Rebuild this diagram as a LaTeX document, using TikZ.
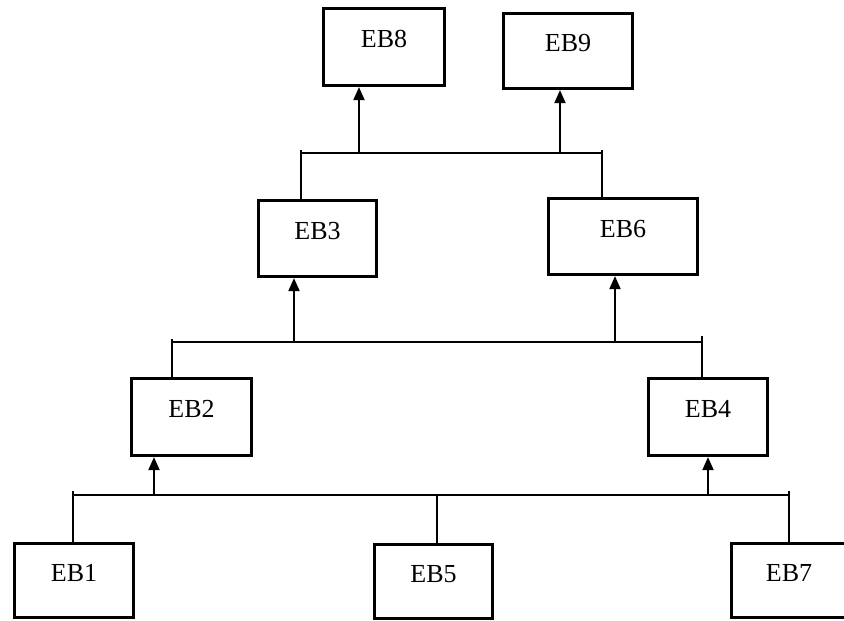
\documentclass[tikz,border=0pt]{standalone}
\usepackage{fontspec}
\setmainfont{Liberation Serif}
\usetikzlibrary{arrows.meta}
\begin{document}
\begin{tikzpicture}[x=1pt,y=-1pt,
  ebox/.style={draw, line width=3.2pt, inner sep=0pt, minimum height=77pt,
    font=\fontsize{26}{30}\selectfont, text height=18pt, text depth=17pt},
  wire/.style={line width=1.8pt},
  arr/.style={line width=2pt, -{Triangle[width=11pt,length=13pt]}}]
\useasboundingbox (0,0) rectangle (844,621);

% boxes
\node[ebox, minimum width=121pt] (eb8) at (384,47) {EB8};
\node[ebox, minimum width=129pt, minimum height=75pt] (eb9) at (568,51) {EB9};
\node[ebox, minimum width=118pt, minimum height=76pt] (eb3) at (317.5,238.5) {EB3};
\node[ebox, minimum width=149pt, minimum height=76pt] (eb6) at (623,236.5) {EB6};
\node[ebox, minimum width=120pt] (eb2) at (191.5,417) {EB2};
\node[ebox, minimum width=119pt] (eb4) at (708,417) {EB4};
\node[ebox, minimum width=119pt, minimum height=74pt] (eb1) at (74,580.5) {EB1};
\node[ebox, minimum width=118pt, minimum height=74pt] (eb5) at (433.5,581.5) {EB5};
\node[ebox, minimum width=115pt, minimum height=74pt] (eb7) at (789,580.5) {EB7};

% top bus
\coordinate (tl) at (301,153);
\coordinate (tr) at (602,153);
\coordinate (tlt) at (301,150);
\coordinate (trt) at (602,150);
\coordinate (a8) at (359,153);
\coordinate (a9) at (560,153);
\draw[wire] (tl) -- (tr);
\draw[wire] (eb3.north -| tlt) -- (tlt);
\draw[wire] (eb6.north -| trt) -- (trt);
\draw[arr] (a8) -- (a8 |- eb8.south);
\draw[arr] (a9) -- (a9 |- eb9.south);

% middle bus
\coordinate (ml) at (172,342);
\coordinate (mr) at (702,342);
\coordinate (mlt) at (172,339);
\coordinate (mrt) at (702,336);
\coordinate (a3) at (294,342);
\coordinate (a6) at (615,342);
\draw[wire] (ml) -- (mr);
\draw[wire] (eb2.north -| mlt) -- (mlt);
\draw[wire] (eb4.north -| mrt) -- (mrt);
\draw[arr] (a3) -- (a3 |- eb3.south);
\draw[arr] (a6) -- (a6 |- eb6.south);

% bottom bus
\coordinate (bl) at (73,495);
\coordinate (br) at (789,495);
\coordinate (blt) at (73,491);
\coordinate (brt) at (789,491);
\coordinate (bm) at (437,495);
\coordinate (a2) at (154,496);
\coordinate (a4) at (708,496);
\draw[wire] (bl) -- (br);
\draw[wire] (eb1.north -| blt) -- (blt);
\draw[wire] (eb5.north -| bm) -- (bm);
\draw[wire] (eb7.north -| brt) -- (brt);
\draw[arr] (a2) -- (a2 |- eb2.south);
\draw[arr] (a4) -- (a4 |- eb4.south);
\end{tikzpicture}
\end{document}
